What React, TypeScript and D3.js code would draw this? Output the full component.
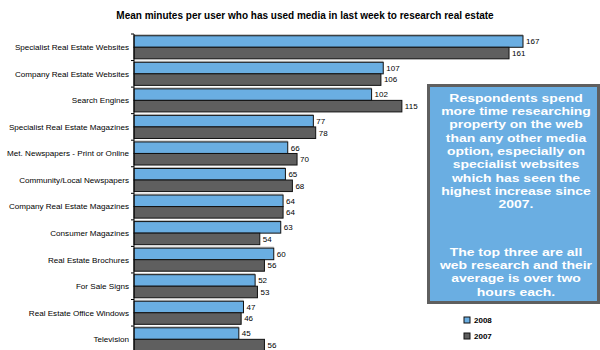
import React from "react";
import * as d3 from "d3";

const title = "Mean minutes per user who has used media in last week to research real estate";
const categories = [
  "Specialist Real Estate Websites",
  "Company Real Estate Websites",
  "Search Engines",
  "Specialist Real Estate Magazines",
  "Met. Newspapers - Print or Online",
  "Community/Local Newspapers",
  "Company Real Estate Magazines",
  "Consumer Magazines",
  "Real Estate Brochures",
  "For Sale Signs",
  "Real Estate Office Windows",
  "Television",
];
const values2008 = [167, 107, 102, 77, 66, 65, 64, 63, 60, 52, 47, 45];
const values2007 = [161, 106, 115, 78, 70, 68, 64, 54, 56, 53, 46, 56];
const seriesNames = ["2008", "2007"];
const seriesColors = ["#6AAEE2", "#5F5F5F"];
const boxPara1 = [
  "Respondents spend",
  "more time researching",
  "property on the web",
  "than any other media",
  "option, especially on",
  "specialist websites",
  "which has seen the",
  "highest increase since",
  "2007.",
];
const boxPara2 = [
  "The top three are all",
  "web research and their",
  "average is over two",
  "hours each.",
];

const W = 600;
const H = 350;
const x0 = 134;
const plotTop = 34;
const band = 26.55;

export default function App() {
  const x = d3.scaleLinear().domain([0, 167]).range([x0, x0 + 389]);
  const y = d3
    .scaleBand<string>()
    .domain(categories)
    .range([plotTop, plotTop + band * categories.length])
    .paddingInner(0)
    .paddingOuter(0);
  const inner = d3
    .scaleBand<string>()
    .domain(seriesNames)
    .range([0, band])
    .paddingOuter(0.15)
    .paddingInner(0);
  const series = [values2008, values2007];
  const font = "Arial, 'Liberation Sans', sans-serif";
  const lineH = 13.27;
  const boxCx = 516;

  const boxText = (lines: string[], y0: number, key: string) =>
    lines.map((t, i) => (
      <text
        key={key + i}
        x={0}
        y={y0 + i * lineH}
        dy="0.36em"
        textAnchor="middle"
        fontSize={11}
        fontWeight="bold"
        fill="#fff"
      >
        {t}
      </text>
    ));

  return (
    <svg
      width={W}
      height={H}
      style={{ position: "absolute", left: 0, top: 0, background: "#fff" }}
      fontFamily={font}
    >
      <text x={305} y={19} textAnchor="middle" fontSize={10} fontWeight="bold" fill="#000">
        {title}
      </text>

      {categories.map((c, i) => (
        <g key={c}>
          <text
            x={129}
            y={(y(c) as number) + band / 2}
            dy="0.35em"
            textAnchor="end"
            fontSize={8.1}
            fill="#000"
          >
            {c}
          </text>
          {series.map((vals, s) => {
            const by = (y(c) as number) + (inner(seriesNames[s]) as number);
            const bh = inner.bandwidth();
            const xe = x(vals[i]);
            return (
              <g key={s}>
                {s === 0 && (
                  <line x1={x0} x2={xe} y1={by - 1} y2={by - 1} stroke="#bbb" strokeWidth={1} />
                )}
                <rect
                  x={x0}
                  y={by}
                  width={xe - x0}
                  height={bh}
                  fill={seriesColors[s]}
                  stroke="#111"
                  strokeWidth={1}
                />
                <text x={xe + 3} y={by + bh / 2} dy="0.36em" fontSize={8} fill="#000">
                  {vals[i]}
                </text>
              </g>
            );
          })}
        </g>
      ))}

      <line x1={x0} x2={x0} y1={plotTop} y2={plotTop + band * categories.length} stroke="#000" strokeWidth={1} />
      {d3.range(categories.length + 1).map((k) => (
        <line
          key={k}
          x1={x0 - 3}
          x2={x0}
          y1={plotTop + k * band}
          y2={plotTop + k * band}
          stroke="#000"
          strokeWidth={1}
        />
      ))}

      <rect x={428.5} y={85.5} width={170} height={217} fill="#6AAEE2" stroke="#5F5F5F" strokeWidth={3} />
      <g transform={`translate(${boxCx},0) scale(1.27,1)`}>
        {boxText(boxPara1, 98, "a")}
        {boxText(boxPara2, 252, "b")}
      </g>

      {seriesNames.map((n, s) => (
        <g key={n}>
          <rect
            x={464}
            y={317 + s * 16}
            width={6}
            height={6}
            fill={seriesColors[s]}
            stroke="#111"
            strokeWidth={1}
          />
          <text x={474} y={320 + s * 16} dy="0.36em" fontSize={8} fontWeight="bold" fill="#000">
            {n}
          </text>
        </g>
      ))}
    </svg>
  );
}
